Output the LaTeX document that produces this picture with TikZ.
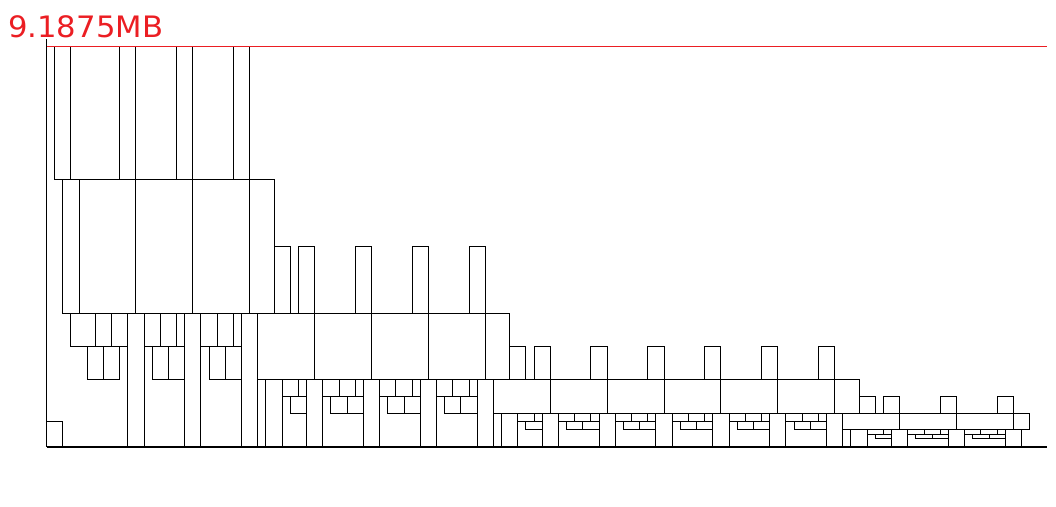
\documentclass[tikz,border=0pt]{standalone}
\usepackage{fontspec}
\newfontfamily\memfont{DejaVu Sans}
\definecolor{memred}{RGB}{235,30,35}
\tikzset{blk/.style={draw=black,line width=1pt,fill=none}}
% copy with three top cells and two lower cells: start, y0, y1, y2
\newcommand\cpyB[4]{%
  \draw[blk] (#1,#3) rectangle (#1+2,#4);
  \draw[blk] (#1+2,#3) rectangle (#1+4,#4);
  \draw[blk] (#1+4,#3) rectangle (#1+5,#4);
  \draw[blk] (#1+1,#2) rectangle (#1+3,#3);
  \draw[blk] (#1+3,#2) rectangle (#1+5,#3);}
% short copy: two top cells and one lower cell
\newcommand\cpyA[4]{%
  \draw[blk] (#1,#3) rectangle (#1+2,#4);
  \draw[blk] (#1+2,#3) rectangle (#1+3,#4);
  \draw[blk] (#1+1,#2) rectangle (#1+3,#3);}
\begin{document}
\begin{tikzpicture}[x=1pt,y=1pt]
\useasboundingbox (0,0) rectangle (1056,506);
\node[anchor=base west,inner sep=0pt,text=memred,font=\memfont\fontsize{29.5}{29.5}\selectfont,xscale=1.04] (lbl) at (8,468.5) {9.1875MB};
\begin{scope}[shift={(46.5pt,59.5pt)},x=8.125pt,y=8.3333pt]
  % ---------- level 1 ----------
  \draw[blk] (0,0) rectangle (2,3);
  \foreach \a/\b in {1/3,3/9,9/11,11/16,16/18,18/23,23/25}
    \draw[blk] (\a,32) rectangle (\b,48);
  \foreach \a/\b in {2/4,4/11,11/18,18/25,25/28}
    \draw[blk] (\a,16) rectangle (\b,32);
  \foreach \a/\b in {3/6,6/8,8/10}
    \draw[blk] (\a,12) rectangle (\b,16);
  \foreach \a/\b in {5/7,7/9}
    \draw[blk] (\a,8) rectangle (\b,12);
  \foreach \a in {10,17,24}
    \draw[blk] (\a,0) rectangle (\a+2,16);
  \cpyB{12}{8}{12}{16}
  \cpyB{19}{8}{12}{16}
  % ---------- level 2 ----------
  \foreach \a/\b in {26/33,33/40,40/47,47/54,54/57}
    \draw[blk] (\a,8) rectangle (\b,16);
  \foreach \a in {28,31,38,45,52}
    \draw[blk] (\a,16) rectangle (\a+2,24);
  \draw[blk] (26,0) rectangle (27,8);
  \draw[blk] (27,0) rectangle (29,8);
  \cpyA{29}{4}{6}{8}
  \foreach \a in {32,39,46,53}
    \draw[blk] (\a,0) rectangle (\a+2,8);
  \cpyB{34}{4}{6}{8}
  \cpyB{41}{4}{6}{8}
  \cpyB{48}{4}{6}{8}
  % ---------- level 3 ----------
  \foreach \a/\b in {55/62,62/69,69/76,76/83,83/90,90/97,97/100}
    \draw[blk] (\a,4) rectangle (\b,8);
  \foreach \a in {57,60,67,74,81,88,95}
    \draw[blk] (\a,8) rectangle (\a+2,12);
  \draw[blk] (55,0) rectangle (56,4);
  \draw[blk] (56,0) rectangle (58,4);
  \cpyA{58}{2}{3}{4}
  \foreach \a in {61,68,75,82,89,96}
    \draw[blk] (\a,0) rectangle (\a+2,4);
  \foreach \a in {63,70,77,84,91}
    \cpyB{\a}{2}{3}{4}
  % ---------- level 4 ----------
  \foreach \a/\b in {98/105,105/112,112/119,119/121}
    \draw[blk] (\a,2) rectangle (\b,4);
  \foreach \a in {100,103,110,117}
    \draw[blk] (\a,4) rectangle (\a+2,6);
  \draw[blk] (98,0) rectangle (99,2);
  \draw[blk] (99,0) rectangle (101,2);
  \cpyA{101}{1}{1.5}{2}
  \foreach \a in {104,111,118}
    \draw[blk] (\a,0) rectangle (\a+2,2);
  \cpyB{106}{1}{1.5}{2}
  \cpyB{113}{1}{1.5}{2}
  % ---------- axes and peak line ----------
  \coordinate (o) at (0,0);
  \coordinate (xend) at (123.15,0);
  \coordinate (ytop) at (0,48.95);
  \coordinate (pk0) at (0,48);
  \coordinate (pk1) at (123.15,48);
  \draw[black,line width=1pt] (o) -- (ytop);
  \draw[black,line width=2pt] ([yshift=-0.5pt]o) -- ([yshift=-0.5pt]xend);
  \draw[memred,line width=1pt] (pk0) -- (pk1);
\end{scope}
\end{tikzpicture}
\end{document}
